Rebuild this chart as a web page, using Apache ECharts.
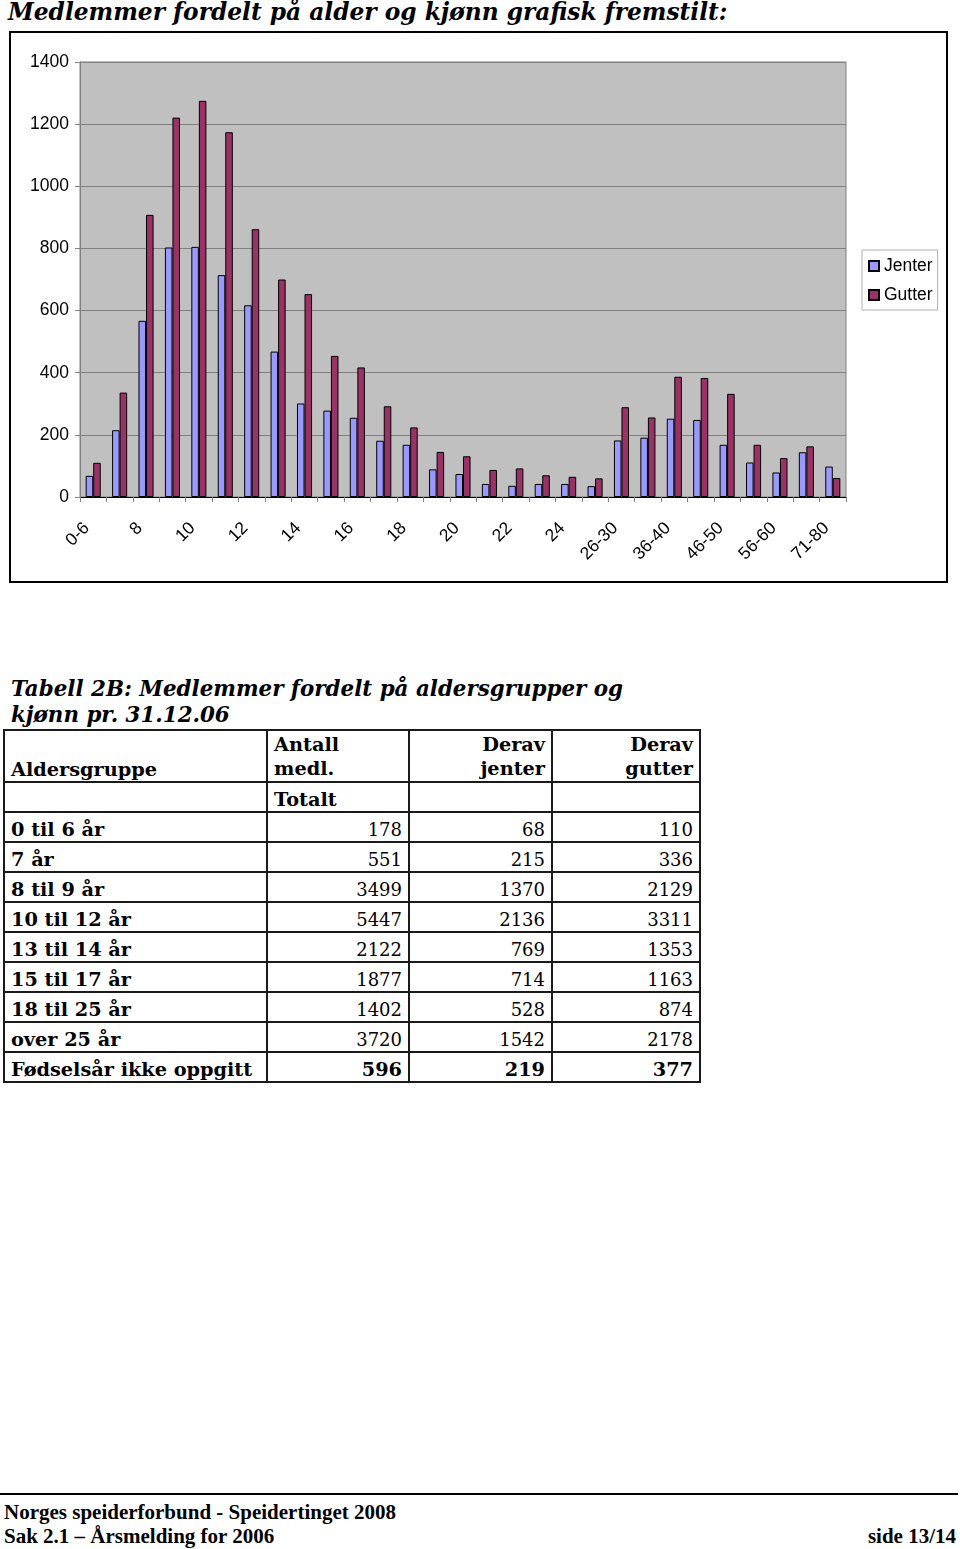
<!DOCTYPE html>
<html>
<head>
<meta charset="utf-8">
<script src="https://cdn.jsdelivr.net/npm/echarts@6/dist/echarts.min.js"></script>
<style>
  html, body { margin:0; padding:0; background:#fff; width:960px; height:1549px; overflow:hidden; }
  #title { position:absolute; left:8px; top:-2px; font: italic bold 23.3px "DejaVu Serif", serif; color:#000; white-space:nowrap; }
  #frame { position:absolute; left:9px; top:31px; width:939px; height:552px; border:2px solid #000; box-sizing:border-box; }
  #chart { width:935px; height:548px; }
  #ttitle { position:absolute; left:11px; top:676px; font: italic bold 21.4px "DejaVu Serif", serif; line-height:26px; color:#000; white-space:nowrap; }
  table { position:absolute; left:3px; top:729px; border-collapse:collapse; font-family:"DejaVu Serif", serif; font-size:18px; color:#000; }
  td { border:2.5px solid #1a1a1a; padding:0 6px; height:26px; line-height:22px; vertical-align:bottom; }
  td.n { text-align:right; }
  td.b, tr.b td { font-weight:bold; font-size:19.3px; }
  #footline { position:absolute; left:0; top:1493px; width:958px; height:2px; background:#000; }
  .foot { position:absolute; font: bold 21px "Liberation Serif", serif; color:#000; white-space:nowrap; }
</style>
</head>
<body>
<div id="title">Medlemmer fordelt på alder og kjønn grafisk fremstilt:</div>
<div id="frame"><div id="chart"></div></div>
<div id="ttitle">Tabell 2B: Medlemmer fordelt på aldersgrupper og<br>kjønn pr. 31.12.06</div>
<table id="tbl"></table>
<div id="footline"></div>
<div class="foot" style="left:4px; top:1500px;">Norges speiderforbund - Speidertinget 2008</div>
<div class="foot" style="left:4px; top:1524px;">Sak 2.1 – Årsmelding for 2006</div>
<div class="foot" style="right:4px; top:1524px;">side 13/14</div>
<script>
// Chart data
const categories = ["0-6","7","8","9","10","11","12","13","14","15","16","17","18","19","20","21","22","23","24","25","26-30","31-35","36-40","41-45","46-50","51-55","56-60","61-70","71-80"];
const jenter = [68,215,567,803,805,714,617,468,301,278,255,181,168,89,74,42,36,42,42,35,182,191,252,248,168,111,79,144,98];
const gutter = [110,336,908,1221,1275,1174,862,700,653,454,417,292,224,145,131,87,92,70,65,60,289,256,387,383,332,168,125,163,61];
const yTicks = [0,200,400,600,800,1000,1200,1400];

// Table data
const tableHeader = [["Aldersgruppe","Antall<br>medl.","Derav<br>jenter","Derav<br>gutter"],["","Totalt","",""]];
const groups = ["0 til 6 år","7 år","8 til 9 år","10 til 12 år","13 til 14 år","15 til 17 år","18 til 25 år","over 25 år","Fødselsår ikke oppgitt"];
const totalt = [178,551,3499,5447,2122,1877,1402,3720,596];
const deravJenter = [68,215,1370,2136,769,714,528,1542,219];
const deravGutter = [110,336,2129,3311,1353,1163,874,2178,377];

// build table
const widths = [263,142,143,148];
let html = '<colgroup>' + widths.map(w=>'<col style="width:'+w+'px">').join('') + '</colgroup>';
html += '<tr class="b" style="height:52px"><td>'+tableHeader[0][0]+'</td><td style="line-height:24px">'+tableHeader[0][1]+'</td><td class="n" style="line-height:24px">'+tableHeader[0][2]+'</td><td class="n" style="line-height:24px">'+tableHeader[0][3]+'</td></tr>';
html += '<tr class="b" style="height:30px"><td></td><td>'+tableHeader[1][1]+'</td><td></td><td></td></tr>';
groups.forEach((g,i)=>{
  const last = i === groups.length-1;
  html += '<tr'+(last?' class="b"':'')+' style="height:30px"><td class="b">'+g+'</td><td class="n">'+totalt[i]+'</td><td class="n">'+deravJenter[i]+'</td><td class="n">'+deravGutter[i]+'</td></tr>';
});
document.getElementById('tbl').innerHTML = html;

const chart = echarts.init(document.getElementById('chart'), null, {renderer:'canvas'});
const font = '"Liberation Sans", Arial, sans-serif';
chart.setOption({
  animation:false,
  backgroundColor:'#fff',
  grid:{ left:69, top:29, width:766, height:435, show:true, backgroundColor:'#C0C0C0', borderColor:'#808080', borderWidth:1 },
  legend:{
    orient:'vertical', left:851, top:217, width:79,
    backgroundColor:'#fff', borderColor:'#b0b0b0', borderWidth:1,
    padding:[7,5,6,6], itemWidth:10, itemHeight:10, itemGap:11,
    textStyle:{ fontFamily:font, fontSize:17.5, color:'#000' },
    data:[{name:'Jenter', icon:'rect'},{name:'Gutter', icon:'rect'}]
  },
  xAxis:{
    type:'category', data:categories,
    axisLine:{ show:true, lineStyle:{ color:'#000', width:1 } },
    axisTick:{ show:true, interval:0, length:5, lineStyle:{ color:'#808080' } },
    axisLabel:{ interval:1, rotate:45, margin:22, padding:[0,9,0,0], fontFamily:font, fontSize:17.5, color:'#000' }
  },
  yAxis:{
    type:'value', min:yTicks[0], max:yTicks[yTicks.length-1], interval:200,
    axisLine:{ show:true, lineStyle:{ color:'#808080', width:1 } },
    axisTick:{ show:true, length:5, lineStyle:{ color:'#808080' } },
    axisLabel:{ margin:11, fontFamily:font, fontSize:17.5, color:'#000', formatter:v=>String(v) },
    splitLine:{ show:true, lineStyle:{ color:'#808080', width:1 } }
  },
  series:[
    { name:'Jenter', type:'bar', data:jenter, barGap:'0%', barCategoryGap:'42.9%',
      itemStyle:{ color:'#9999FF', borderColor:'#000', borderWidth:1 } },
    { name:'Gutter', type:'bar', data:gutter, barGap:'0%', barCategoryGap:'42.9%',
      itemStyle:{ color:'#993366', borderColor:'#000', borderWidth:1 } }
  ]
});
</script>
</body>
</html>
